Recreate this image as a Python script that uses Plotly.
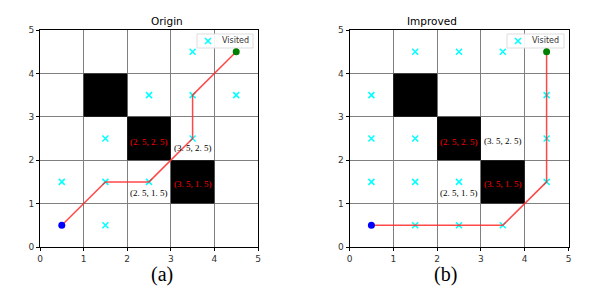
import plotly.graph_objects as go

# ---- data ----
obstacles = [(1, 3), (2, 2), (3, 1)]  # lower-left corners of blocked cells
start = (0.5, 0.5)
goal = (4.5, 4.5)

visited_a_x = [3.5, 2.5, 3.5, 4.5, 1.5, 3.5, 0.5, 1.5, 2.5, 1.5]
visited_a_y = [4.5, 3.5, 3.5, 3.5, 2.5, 2.5, 1.5, 1.5, 1.5, 0.5]
path_a_x = [0.5, 1.5, 2.5, 3.5, 3.5, 4.5]
path_a_y = [0.5, 1.5, 1.5, 2.5, 3.5, 4.5]

visited_b_x = [1.5, 2.5, 3.5, 0.5, 4.5, 0.5, 1.5, 4.5, 0.5, 1.5, 2.5, 4.5, 1.5, 2.5, 3.5]
visited_b_y = [4.5, 4.5, 4.5, 3.5, 3.5, 2.5, 2.5, 2.5, 1.5, 1.5, 1.5, 1.5, 0.5, 0.5, 0.5]
path_b_x = [0.5, 3.5, 4.5, 4.5]
path_b_y = [0.5, 0.5, 1.5, 4.5]

labels_a = [("(2. 5, 2. 5)", 2.5, 2.43, "red"), ("(3. 5, 1. 5)", 3.5, 1.45, "red"),
            ("(2. 5, 1. 5)", 2.5, 1.25, "black"), ("(3. 5, 2. 5)", 3.5, 2.27, "black")]
labels_b = [("(2. 5, 2. 5)", 2.5, 2.43, "red"), ("(3. 5, 1. 5)", 3.5, 1.45, "red"),
            ("(2. 5, 1. 5)", 2.5, 1.25, "black"), ("(3. 5, 2. 5)", 3.5, 2.45, "black")]

titles = ["Origin", "Improved"]
captions = ["(a)", "(b)"]
legend_label = "Visited"
ticks = [0, 1, 2, 3, 4, 5]

W, H = 595, 291
fig = go.Figure()

panels = [
    ("x", "y", visited_a_x, visited_a_y, path_a_x, path_a_y, labels_a),
    ("x2", "y2", visited_b_x, visited_b_y, path_b_x, path_b_y, labels_b),
]
xpix = [(40, 258), (349.5, 568.5)]
ypix = (30, 247)
xdomains = [(a / W, b / W) for a, b in xpix]
ydom = (1 - ypix[1] / H, 1 - ypix[0] / H)
# legend boxes in pixels: (left, top, right, bottom)
legend_boxes = [(197, 34, 253, 48), (507, 34, 564, 48)]

visited_marker = dict(symbol="x-thin", size=6, color="cyan", line=dict(width=1.5, color="cyan"))


def px_to_data(i, px, py):
    x0, x1 = xpix[i]
    return (px - x0) / (x1 - x0) * 5, (ypix[1] - py) / (ypix[1] - ypix[0]) * 5


for i, (xr, yr, vx, vy, px, py, labs) in enumerate(panels):
    for (ox, oy) in obstacles:
        fig.add_shape(type="rect", xref=xr, yref=yr, x0=ox, y0=oy, x1=ox + 1, y1=oy + 1,
                      fillcolor="black", line=dict(width=0), layer="between")
    # compact legend box drawn to match the matplotlib legend
    l, t, r, b = legend_boxes[i]
    bx0, by0 = px_to_data(i, l, b)
    bx1, by1 = px_to_data(i, r, t)
    fig.add_shape(type="rect", xref=xr, yref=yr, x0=bx0, x1=bx1, y0=by0, y1=by1,
                  fillcolor="rgba(255,255,255,0.9)", line=dict(color="#dddddd", width=1),
                  layer="between")
    fig.add_trace(go.Scatter(x=vx, y=vy, mode="markers", name=legend_label, xaxis=xr, yaxis=yr,
                             marker=visited_marker, showlegend=False))
    fig.add_trace(go.Scatter(x=px, y=py, mode="lines", xaxis=xr, yaxis=yr, showlegend=False,
                             line=dict(color="rgba(255,40,40,0.85)", width=1.5)))
    fig.add_trace(go.Scatter(x=[start[0]], y=[start[1]], mode="markers", xaxis=xr, yaxis=yr,
                             showlegend=False, marker=dict(color="blue", size=7)))
    fig.add_trace(go.Scatter(x=[goal[0]], y=[goal[1]], mode="markers", xaxis=xr, yaxis=yr,
                             showlegend=False, marker=dict(color="green", size=7)))
    for (t_, lx, ly, c) in labs:
        fig.add_annotation(x=lx, y=ly, xref=xr, yref=yr, text=t_, showarrow=False,
                           font=dict(family="Liberation Serif", size=9, color=c))
    xd = xdomains[i]
    fig.add_annotation(x=(xd[0] + xd[1]) / 2, y=ydom[1], xref="paper", yref="paper",
                       yanchor="bottom", yshift=1, text=titles[i], showarrow=False,
                       font=dict(family="DejaVu Sans", size=10.5, color="black"))
    fig.add_annotation(x=(xd[0] + xd[1]) / 2, y=1 - 274.5 / H, xref="paper", yref="paper",
                       yanchor="middle", text=captions[i], showarrow=False,
                       font=dict(family="Liberation Serif", size=20, color="black"))
    mx, my = px_to_data(i, l + 11, (t + b) / 2)
    fig.add_trace(go.Scatter(x=[mx], y=[my], mode="markers", xaxis=xr, yaxis=yr,
                             marker=visited_marker, showlegend=False, hoverinfo="skip",
                             cliponaxis=False))
    fig.add_annotation(x=(l + 24) / W, y=1 - (t + b) / 2 / H, xref="paper", yref="paper",
                       xanchor="left", yanchor="middle", text=legend_label, showarrow=False,
                       borderpad=0, font=dict(family="DejaVu Sans", size=8, color="#333333"))

axis_common = dict(range=[0, 5], tickvals=ticks, showgrid=True, gridcolor="#808080", gridwidth=1,
                   showline=True, linecolor="black", linewidth=1, mirror=True, ticks="outside",
                   ticklen=3, tickcolor="black", zeroline=False, automargin=False,
                   tickfont=dict(family="DejaVu Sans", size=9, color="#333333"))

fig.update_layout(
    width=W, height=H, margin=dict(l=0, r=0, t=0, b=0), autosize=False,
    paper_bgcolor="white", plot_bgcolor="white", showlegend=False,
    xaxis=dict(domain=list(xdomains[0]), anchor="y", **axis_common),
    yaxis=dict(domain=list(ydom), anchor="x", **axis_common),
    xaxis2=dict(domain=list(xdomains[1]), anchor="y2", **axis_common),
    yaxis2=dict(domain=list(ydom), anchor="x2", **axis_common),
)

fig.write_html("out.html", config={"displayModeBar": False},
               post_script="document.body.style.margin='0';document.body.style.overflow='hidden';")
